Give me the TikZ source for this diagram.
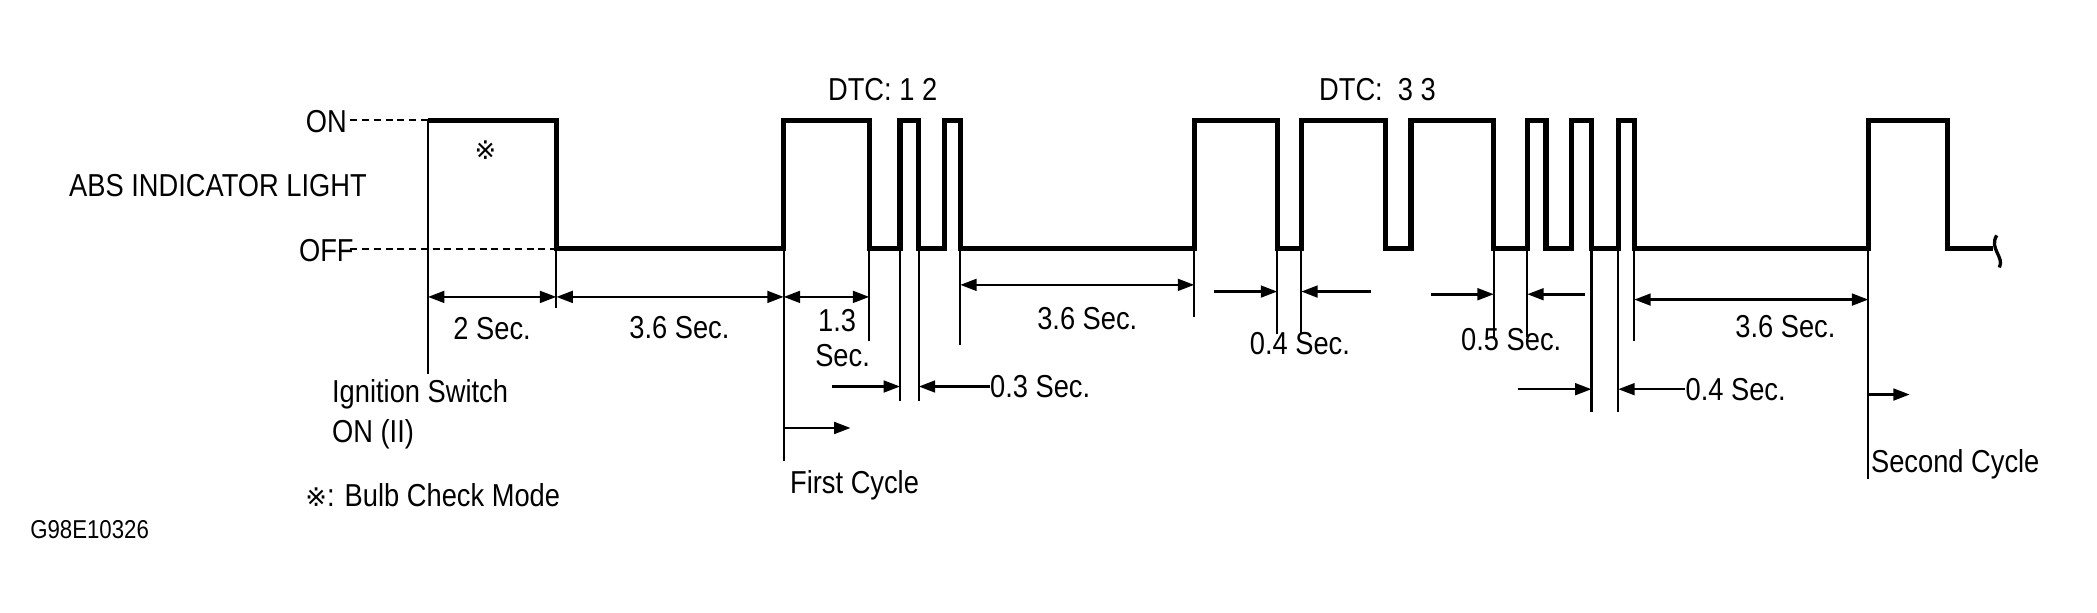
\documentclass[tikz,border=0pt]{standalone}
\usepackage{fontspec}
\setmainfont{Liberation Sans}[FakeStretch=0.86]
\newfontfamily\symfont{DejaVu Sans}
\usetikzlibrary{arrows.meta}
\begin{document}
\begin{tikzpicture}[x=0.02cm,y=-0.02cm,
  sig/.style={line width=2.2pt,line join=miter},
  ext/.style={line width=0.9pt},
  dim/.style={line width=1.1pt,{Triangle[length=7pt,width=5pt]}-{Triangle[length=7pt,width=5pt]}},
  ar/.style={line width=1.1pt,-{Triangle[length=7pt,width=5pt]}},
  lab/.style={font=\fontsize{13.5}{15}\selectfont,inner sep=0pt}]
\useasboundingbox (0,0) rectangle (1568,458);
% level labels
\node[lab] (on) at (244,91) {ON};
\node[lab] (off) at (244,187) {OFF};
\node[lab] (abs) at (163,139) {ABS INDICATOR LIGHT};
\draw[ext,dashed,dash pattern=on 3pt off 2pt] (262,90) -- (320,90);
\draw[ext,dashed,dash pattern=on 3pt off 2pt] (262,186) -- (416,186);
% signal
\draw[sig] (320,90) -- (416,90) -- (416,186) -- (586,186) -- (586,90) -- (650,90) -- (650,186)
 -- (673,186) -- (673,90) -- (687,90) -- (687,186) -- (706,186) -- (706,90) -- (718,90) -- (718,186)
 -- (893,186) -- (893,90) -- (955,90) -- (955,186) -- (973,186) -- (973,90) -- (1036,90) -- (1036,186)
 -- (1055,186) -- (1055,90) -- (1117,90) -- (1117,186) -- (1142,186) -- (1142,90) -- (1156,90) -- (1156,186)
 -- (1175,186) -- (1175,90) -- (1190,90) -- (1190,186) -- (1210,186) -- (1210,90) -- (1222,90) -- (1222,186)
 -- (1397,186) -- (1397,90) -- (1456,90) -- (1456,186) -- (1490,186);
\draw[line width=1.4pt] (1493,176) .. controls (1487,186) and (1499,192) .. (1495,200);
% extension lines
\draw[ext] (320,90) -- (320,280);
\draw[ext] (416,186) -- (416,230);
\draw[ext] (586,186) -- (586,345);
\draw[ext] (650,186) -- (650,255);
\draw[ext] (673,186) -- (673,300);
\draw[ext] (687,186) -- (687,300);
\draw[ext] (718,186) -- (718,258);
\draw[ext] (893,186) -- (893,237);
\draw[ext] (955,186) -- (955,250);
\draw[ext] (973,186) -- (973,250);
\draw[ext] (1117,186) -- (1117,252);
\draw[ext] (1142,186) -- (1142,252);
\draw[ext] (1190,186) -- (1190,308);
\draw[ext] (1210,186) -- (1210,308);
\draw[ext] (1222,186) -- (1222,255);
\draw[ext] (1397,186) -- (1397,358);
% dimensions
\draw[dim] (320,222) -- (416,222);
\draw[dim] (416,222) -- (586,222);
\draw[dim] (586,222) -- (650,222);
\draw[dim] (718,213) -- (893,213);
\draw[ar] (908,218) -- (955,218);
\draw[ar] (1025,218) -- (973,218);
\draw[ar] (1070,220) -- (1117,220);
\draw[ar] (1185,220) -- (1142,220);
\draw[dim] (1222,224) -- (1397,224);
\draw[ar] (622,289) -- (673,289);
\draw[ar] (740,289) -- (687,289);
\draw[ar] (1135,291) -- (1190,291);
\draw[ar] (1260,291) -- (1210,291);
\draw[ar] (586,320) -- (636,320);
\draw[ar] (1397,295) -- (1428,295);
% labels
\node[lab] (t2) at (368,246) {2 Sec.};
\node[lab] (t36a) at (508,245) {3.6 Sec.};
\node[lab] (t13) at (626,240) {1.3};
\node[lab] (t13s) at (630,266) {Sec.};
\node[lab] (t36b) at (813,238) {3.6 Sec.};
\node[lab] (t04a) at (972,257) {0.4 Sec.};
\node[lab] (t05) at (1130,254) {0.5 Sec.};
\node[lab] (t36c) at (1335,244) {3.6 Sec.};
\node[lab,anchor=west] (t03) at (740,289) {0.3 Sec.};
\node[lab,anchor=west] (t04b) at (1260,291) {0.4 Sec.};
\node[lab,anchor=west,align=left] (ign) at (248,310) {Ignition Switch\\[2pt]ON (II)};
\node[lab,anchor=west] (bulb) at (228,370) {{\symfont\fontsize{11}{12}\selectfont ※}: Bulb Check Mode};
\node[lab] (fc) at (639,363) {First Cycle};
\node[lab] (sc) at (1462,347) {Second Cycle};
\node[lab,font=\fontsize{11}{12}\selectfont] (code) at (67,396) {G98E10326};
\node[lab] (dtc1) at (660,67) {DTC: 1 2};
\node[lab] (dtc2) at (1030,67) {DTC:\ \ 3 3};
\node[inner sep=0pt,font=\symfont\fontsize{11}{12}\selectfont] (mark) at (363,112) {※};
\end{tikzpicture}
\end{document}
